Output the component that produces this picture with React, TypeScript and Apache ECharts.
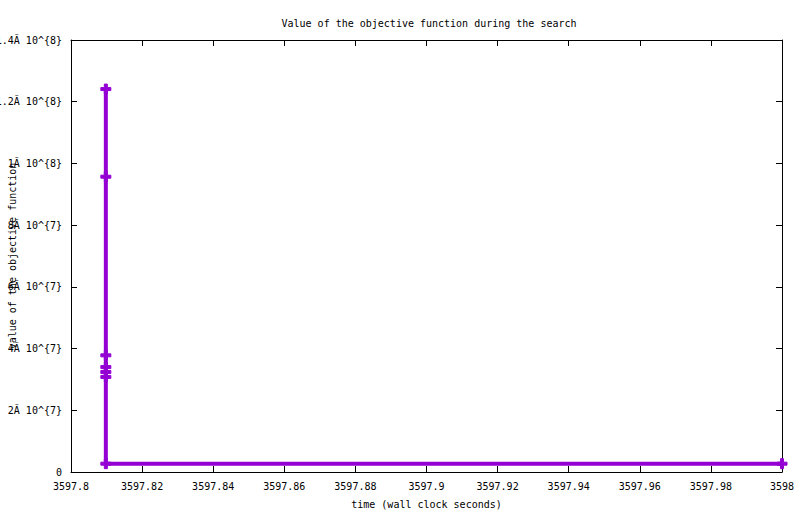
import React, { useEffect, useRef } from "react";
import * as echarts from "echarts";

const times = [3597.8098, 3597.8098, 3597.8098, 3597.8098, 3597.8098, 3597.8098, 3597.8098, 3598.0];
const values = [1.241e8, 9.57e7, 3.78e7, 3.4e7, 3.24e7, 3.08e7, 2.7e6, 2.7e6];
const yTickLabels = ["0", "2Ã 10^{7}", "4Ã 10^{7}", "6Ã 10^{7}", "8Ã 10^{7}", "1Ã 10^{8}", "1.2Ã 10^{8}", "1.4Ã 10^{8}"];

const FONT = "DejaVu Sans Mono";
const PLUS = "path://M3.5,0 H6.5 V3.5 H10 V6.5 H6.5 V10 H3.5 V6.5 H0 V3.5 H3.5 Z";

export default function App() {
  const ref = useRef<HTMLDivElement>(null);
  useEffect(() => {
    if (!ref.current) return;
    const chart = echarts.init(ref.current, undefined, { renderer: "svg" });
    const xCommon = {
      type: "value" as const,
      min: 3597.8,
      max: 3598,
      interval: 0.02,
      splitLine: { show: false },
      axisLine: { show: true, onZero: false, lineStyle: { color: "#000", width: 1 } },
      axisTick: { show: true, inside: true, length: 6, lineStyle: { color: "#000" } },
    };
    const yCommon = {
      type: "value" as const,
      min: 0,
      max: 1.4e8,
      interval: 2e7,
      splitLine: { show: false },
      axisLine: { show: true, onZero: false, lineStyle: { color: "#000", width: 1 } },
      axisTick: { show: true, inside: true, length: 6, lineStyle: { color: "#000" } },
    };
    chart.setOption({
      animation: false,
      backgroundColor: "#fff",
      textStyle: { fontFamily: FONT },
      title: {
        text: "Value of the objective function during the search",
        left: 424,
        textAlign: "center",
        top: 13,
        textStyle: { fontFamily: FONT, fontSize: 10, fontWeight: "normal", color: "#000" },
      },
      grid: { left: 71, right: 18, top: 40, bottom: 42, containLabel: false, outerBoundsMode: "none" },
      xAxis: [
        {
          ...xCommon,
          position: "bottom",
          name: "time (wall clock seconds)",
          nameLocation: "middle",
          nameGap: 27,
          nameMoveOverlap: false,
          nameTextStyle: { fontFamily: FONT, fontSize: 10, color: "#000" },
          axisLabel: {
            fontFamily: FONT,
            fontSize: 10,
            color: "#000",
            margin: 9,
            formatter: (v: number) => String(Number(v.toFixed(2))),
          },
        },
        { ...xCommon, position: "top", axisLabel: { show: false } },
      ],
      yAxis: [
        {
          ...yCommon,
          position: "left",
          name: "value of the objective function",
          nameLocation: "middle",
          nameGap: 54,
          nameRotate: 90,
          nameMoveOverlap: false,
          nameTextStyle: { fontFamily: FONT, fontSize: 10, color: "#000" },
          axisLabel: {
            fontFamily: FONT,
            fontSize: 10,
            color: "#000",
            margin: 9,
            formatter: (v: number) => yTickLabels[Math.round(v / 2e7)] ?? "",
          },
        },
        { ...yCommon, position: "right", axisLabel: { show: false } },
      ],
      series: [
        {
          type: "line",
          xAxisIndex: 0,
          yAxisIndex: 0,
          data: times.map((t, i) => [t, values[i]]),
          lineStyle: { color: "#9400d3", width: 4 },
          itemStyle: { color: "#9400d3", borderColor: "#9400d3", borderWidth: 1 },
          symbol: PLUS,
          symbolSize: 10,
          showSymbol: true,
          clip: false,
        },
      ],
    });
    return () => chart.dispose();
  }, []);
  return <div ref={ref} style={{ position: "fixed", left: 0, top: 0, width: 800, height: 514 }} />;
}
